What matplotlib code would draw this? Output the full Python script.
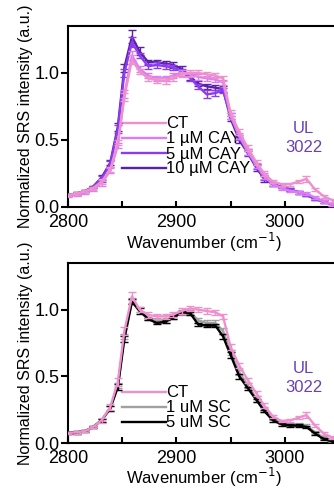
import matplotlib
matplotlib.use("Agg")
import matplotlib.pyplot as plt
from matplotlib.ticker import MultipleLocator, FormatStrFormatter

plt.rcParams['font.family'] = ['Liberation Sans', 'DejaVu Sans']

wavenumber = [2800, 2808, 2816, 2823, 2831, 2839, 2846, 2852, 2859, 2866,
              2874, 2882, 2890, 2897, 2905, 2913, 2920, 2928, 2936, 2943,
              2950, 2958, 2966, 2974, 2981, 2989, 2997, 3005, 3013, 3020,
              3028, 3036, 3044, 3050]

# ---- top panel (CAY) ----
ct_top = [0.09, 0.10, 0.12, 0.14, 0.19, 0.28, 0.48, 0.82, 1.10, 1.01,
          0.96, 0.945, 0.94, 0.96, 0.99, 1.00, 1.00, 0.99, 0.98, 0.96,
          0.70, 0.56, 0.44, 0.33, 0.25, 0.19, 0.17, 0.17, 0.19, 0.21,
          0.13, 0.08, 0.05, 0.03]
cay1 = [0.085, 0.095, 0.11, 0.13, 0.18, 0.27, 0.46, 0.84, 1.13, 1.03,
        0.98, 0.96, 0.96, 0.98, 1.00, 0.99, 0.97, 0.96, 0.95, 0.93,
        0.68, 0.53, 0.41, 0.31, 0.23, 0.17, 0.14, 0.12, 0.11, 0.10,
        0.07, 0.04, 0.02, 0.01]
cay5 = [0.09, 0.10, 0.12, 0.15, 0.21, 0.32, 0.58, 1.00, 1.23, 1.13,
        1.05, 1.06, 1.05, 1.04, 1.01, 0.96, 0.90, 0.84, 0.85, 0.87,
        0.68, 0.52, 0.41, 0.30, 0.22, 0.17, 0.15, 0.13, 0.11, 0.09,
        0.06, 0.04, 0.02, 0.01]
cay10 = [0.09, 0.10, 0.12, 0.15, 0.22, 0.33, 0.60, 1.04, 1.27, 1.16,
         1.08, 1.08, 1.07, 1.06, 1.03, 0.97, 0.92, 0.90, 0.89, 0.88,
         0.66, 0.50, 0.40, 0.29, 0.21, 0.17, 0.15, 0.13, 0.11, 0.09,
         0.06, 0.04, 0.02, 0.01]
ct_top_err = [0.01, 0.01, 0.01, 0.01, 0.02, 0.02, 0.02, 0.03, 0.03, 0.02,
              0.02, 0.02, 0.02, 0.02, 0.02, 0.02, 0.02, 0.02, 0.02, 0.02,
              0.02, 0.02, 0.02, 0.02, 0.02, 0.01, 0.01, 0.01, 0.01, 0.02,
              0.01, 0.01, 0.01, 0.01]
cay1_err = [0.01, 0.01, 0.01, 0.01, 0.02, 0.02, 0.02, 0.03, 0.03, 0.02,
            0.02, 0.02, 0.02, 0.02, 0.02, 0.02, 0.02, 0.02, 0.02, 0.02,
            0.02, 0.02, 0.02, 0.02, 0.02, 0.01, 0.01, 0.01, 0.01, 0.01,
            0.01, 0.01, 0.01, 0.01]
cay5_err = [0.01, 0.01, 0.01, 0.01, 0.02, 0.02, 0.03, 0.03, 0.04, 0.02,
            0.02, 0.02, 0.02, 0.02, 0.02, 0.02, 0.02, 0.03, 0.02, 0.02,
            0.02, 0.02, 0.02, 0.02, 0.02, 0.01, 0.01, 0.01, 0.01, 0.01,
            0.01, 0.01, 0.01, 0.01]
cay10_err = [0.01, 0.01, 0.01, 0.01, 0.02, 0.02, 0.03, 0.03, 0.05, 0.03,
             0.02, 0.02, 0.02, 0.02, 0.02, 0.02, 0.02, 0.02, 0.02, 0.02,
             0.02, 0.02, 0.02, 0.02, 0.02, 0.01, 0.01, 0.01, 0.01, 0.01,
             0.01, 0.01, 0.01, 0.01]

# ---- bottom panel (SC) ----
ct_bot = [0.075, 0.08, 0.09, 0.12, 0.17, 0.27, 0.46, 0.84, 1.10, 1.00,
          0.96, 0.95, 0.95, 0.965, 0.99, 1.01, 1.00, 0.99, 0.98, 0.95,
          0.72, 0.58, 0.47, 0.37, 0.28, 0.20, 0.165, 0.17, 0.19, 0.21,
          0.13, 0.07, 0.04, 0.03]
sc1 = [0.075, 0.08, 0.09, 0.12, 0.17, 0.26, 0.43, 0.80, 1.07, 1.00,
       0.94, 0.92, 0.92, 0.95, 0.98, 0.98, 0.92, 0.90, 0.90, 0.84,
       0.68, 0.53, 0.43, 0.33, 0.25, 0.18, 0.15, 0.14, 0.14, 0.13,
       0.08, 0.04, 0.02, 0.01]
sc5 = [0.075, 0.08, 0.09, 0.12, 0.17, 0.26, 0.42, 0.78, 1.06, 0.99,
       0.93, 0.90, 0.91, 0.94, 0.98, 0.97, 0.89, 0.88, 0.88, 0.80,
       0.66, 0.50, 0.41, 0.32, 0.24, 0.17, 0.14, 0.13, 0.13, 0.12,
       0.07, 0.03, 0.01, 0.0]
ct_bot_err = [0.01, 0.01, 0.01, 0.01, 0.02, 0.02, 0.03, 0.03, 0.03, 0.02,
              0.02, 0.02, 0.02, 0.02, 0.02, 0.02, 0.02, 0.02, 0.02, 0.02,
              0.02, 0.02, 0.02, 0.02, 0.02, 0.01, 0.01, 0.01, 0.01, 0.02,
              0.01, 0.01, 0.01, 0.01]
sc1_err = [0.01, 0.01, 0.01, 0.01, 0.01, 0.02, 0.02, 0.02, 0.02, 0.02,
           0.02, 0.02, 0.02, 0.02, 0.02, 0.02, 0.02, 0.02, 0.02, 0.02,
           0.02, 0.02, 0.02, 0.02, 0.02, 0.01, 0.01, 0.01, 0.01, 0.01,
           0.01, 0.01, 0.01, 0.01]
sc5_err = [0.01, 0.01, 0.01, 0.01, 0.01, 0.02, 0.02, 0.02, 0.02, 0.02,
           0.01, 0.01, 0.01, 0.01, 0.01, 0.01, 0.01, 0.01, 0.01, 0.02,
           0.02, 0.02, 0.01, 0.01, 0.01, 0.01, 0.01, 0.01, 0.01, 0.01,
           0.01, 0.01, 0.01, 0.01]

top_series = [("CT", ct_top, ct_top_err, "#ee90cc"),
              ("1 \u00b5M CAY", cay1, cay1_err, "#dc7cf4"),
              ("5 \u00b5M CAY", cay5, cay5_err, "#8c3cee"),
              ("10 \u00b5M CAY", cay10, cay10_err, "#5a20a8")]
bot_series = [("CT", ct_bot, ct_bot_err, "#ee90cc"),
              ("1 uM SC", sc1, sc1_err, "#a0a0a0"),
              ("5 uM SC", sc5, sc5_err, "#000000")]

annotation = "UL\n3022"
ann_color = "#6a40b8"

W, H = 334, 491
fig = plt.figure(figsize=(W / 100, H / 100), dpi=100)

def px_axes(left, top, right, bottom):
    return fig.add_axes([left / W, 1 - bottom / H, (right - left) / W, (bottom - top) / H])

ax1 = px_axes(68, 26, 339, 207)
ax2 = px_axes(68, 263, 339, 443)

def draw(ax, series, leg_anchor, zorders, xlabelpad):
    handles = []
    for (lab, vals, err, col), z in zip(series, zorders):
        eb = ax.errorbar(wavenumber, vals, yerr=err, color=col, lw=1.7,
                         elinewidth=1.0, capsize=3, capthick=1.0, zorder=z)
        handles.append((eb.lines[0], lab))
    ax.set_xlim(2800, 3050)
    ax.set_ylim(0, 1.35)
    ax.xaxis.set_major_locator(MultipleLocator(100))
    ax.xaxis.set_minor_locator(MultipleLocator(50))
    ax.yaxis.set_major_locator(MultipleLocator(0.5))
    ax.yaxis.set_major_formatter(FormatStrFormatter('%.1f'))
    ax.tick_params(axis='x', which='both', direction='in', length=4, width=1.5,
                   labelsize=13, pad=5)
    ax.tick_params(axis='y', which='both', direction='out', length=5, width=1.5,
                   labelsize=13, pad=1)
    for s in ax.spines.values():
        s.set_linewidth(1.5)
    ax.set_xlabel("Wavenumber (cm$^{-1}$)", fontsize=12, labelpad=xlabelpad)
    ax.set_ylabel("Normalized SRS intensity (a.u.)", fontsize=11.5, labelpad=1)
    ax.legend([h for h, _ in handles], [l for _, l in handles],
              loc='upper left', bbox_to_anchor=leg_anchor, frameon=False,
              fontsize=12, handlelength=2.6, handletextpad=0.05,
              labelspacing=0.0, borderpad=0, borderaxespad=0)
    ax.text(0.87, 0.38 if ax is ax1 else 0.36, annotation, transform=ax.transAxes,
            ha='center', va='center', fontsize=12, color=ann_color, linespacing=1.3)

draw(ax1, top_series, (0.2, 0.5), [13, 12, 11, 10], 0)
draw(ax2, bot_series, (0.2, 0.32), [13, 11, 12], -0.5)

fig.savefig("out.png", dpi=100)
